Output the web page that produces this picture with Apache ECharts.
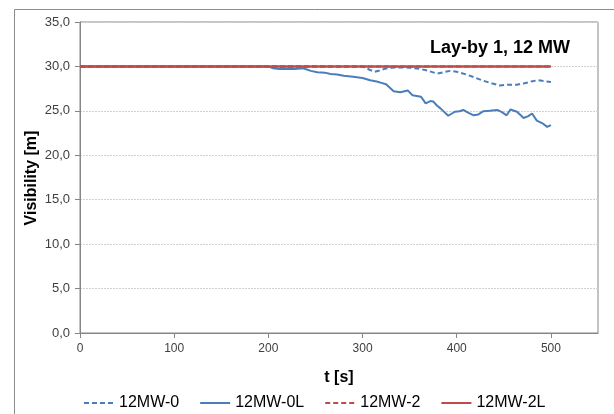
<!DOCTYPE html>
<html>
<head>
<meta charset="utf-8">
<script src="https://cdn.jsdelivr.net/npm/echarts@6/dist/echarts.min.js"></script>
<style>
  html,body{margin:0;padding:0;background:#fff;}
  #chart{width:614px;height:414px;}
</style>
</head>
<body>
<div id="chart"></div>
<script>
// 12MW-0 (dashed blue)
var t0 = [0, 300, 308, 313, 318, 324, 330, 340, 350, 360, 370, 379, 386, 393, 400, 410, 418, 428, 437, 446, 455, 464, 472, 479, 486, 493, 500];
var v0 = [30, 30, 29.6, 29.4, 29.55, 29.75, 29.85, 29.9, 29.85, 29.75, 29.5, 29.2, 29.35, 29.5, 29.4, 29.1, 28.8, 28.4, 28.1, 27.85, 27.95, 27.95, 28.1, 28.3, 28.45, 28.35, 28.25];
// 12MW-0L (solid blue)
var t0L = [0, 200, 205, 212, 220, 228, 237, 245, 252, 260, 266, 273, 280, 290, 300, 308, 315, 320, 325, 329, 333, 340, 348, 353, 362, 367, 372, 375, 379, 383, 391, 398, 403, 407, 412, 418, 423, 428, 435, 443, 448, 453, 457, 464, 471, 476, 480, 485, 491, 496, 500];
var v0L = [30, 30, 29.8, 29.7, 29.75, 29.7, 29.8, 29.5, 29.35, 29.3, 29.15, 29.1, 28.95, 28.85, 28.7, 28.45, 28.3, 28.15, 28.0, 27.6, 27.2, 27.1, 27.3, 26.75, 26.6, 25.85, 26.1, 26.05, 25.6, 25.25, 24.45, 24.9, 24.95, 25.1, 24.8, 24.5, 24.6, 24.95, 25.0, 25.1, 24.85, 24.5, 25.15, 24.9, 24.2, 24.4, 24.7, 23.9, 23.6, 23.2, 23.4];
// 12MW-2 (dashed red) and 12MW-2L (solid red)
var t2 = [0, 100, 200, 300, 400, 500];
var v2 = [30, 30, 30, 30, 30, 30];
var t2L = [0, 100, 200, 300, 400, 500];
var v2L = [30, 30, 30, 30, 30, 30];
var xTicks = [0, 100, 200, 300, 400, 500];

function pairs(t, v){
  return t.map(function(x, i){ return [x, v[i]]; });
}

var blue = '#4A7EBB', red = '#BE4B48';
var font = 'Liberation Sans';

var chart = echarts.init(document.getElementById('chart'));
chart.setOption({
  animation: false,
  textStyle: {fontFamily: font},
  graphic: [{
    type: 'rect',
    shape: {x: 14.5, y: 9.5, width: 700, height: 500},
    style: {fill: 'none', stroke: '#8c8c8c', lineWidth: 1},
    z: -1
  }, {
    // y axis title, placed by hand so the labels don't push it away
    type: 'text',
    x: 32, y: 178,
    rotation: Math.PI / 2,
    style: {
      text: 'Visibility [m]',
      font: 'bold 16px "Liberation Sans"',
      fill: '#000',
      align: 'center',
      verticalAlign: 'middle'
    }
  }],
  title: {
    text: 'Lay-by 1, 12 MW',
    right: 39,
    top: 34,
    textStyle: {fontFamily: font, fontSize: 18, fontWeight: 'bold', color: '#000'}
  },
  grid: {
    left: 80, top: 22, right: 16, bottom: 81,
    show: true, borderColor: '#868686', borderWidth: 1
  },
  legend: {
    left: 78,
    top: 390,
    itemWidth: 30,
    itemHeight: 14,
    itemGap: 20,
    itemStyle: {opacity: 0},
    textStyle: {fontFamily: font, fontSize: 16, color: '#000'},
    data: ['12MW-0', '12MW-0L', '12MW-2', '12MW-2L']
  },
  xAxis: {
    type: 'value',
    min: 0, max: 550,
    name: 't [s]',
    nameLocation: 'middle',
    nameGap: 37,
    nameTextStyle: {fontFamily: font, fontSize: 16, fontWeight: 'bold', color: '#000'},
    axisLine: {lineStyle: {color: '#868686'}},
    axisTick: {show: true, length: 5, lineStyle: {color: '#868686'}, customValues: xTicks},
    axisLabel: {fontSize: 12, color: '#404040', margin: 10, customValues: xTicks},
    splitLine: {show: false}
  },
  yAxis: {
    type: 'value',
    min: 0, max: 35, interval: 5,
    axisLine: {show: true, lineStyle: {color: '#868686'}},
    axisTick: {show: true, length: 5, lineStyle: {color: '#868686'}},
    axisLabel: {
      fontSize: 13, color: '#404040', margin: 10,
      formatter: function(v){ return v.toFixed(1).replace('.', ','); }
    },
    splitLine: {show: true, lineStyle: {color: '#d0d0d0', type: [2, 1]}}
  },
  series: [
    {name: '12MW-0', type: 'line', symbol: 'none', data: pairs(t0, v0),
     lineStyle: {color: blue, width: 2, type: [5, 3]}, itemStyle: {color: blue}},
    {name: '12MW-0L', type: 'line', symbol: 'none', data: pairs(t0L, v0L),
     lineStyle: {color: blue, width: 2}, itemStyle: {color: blue}},
    {name: '12MW-2', type: 'line', symbol: 'none', data: pairs(t2, v2),
     lineStyle: {color: red, width: 2, type: [5, 3]}, itemStyle: {color: red}},
    {name: '12MW-2L', type: 'line', symbol: 'none', data: pairs(t2L, v2L),
     lineStyle: {color: red, width: 2.5}, itemStyle: {color: red}}
  ]
});
</script>
</body>
</html>
